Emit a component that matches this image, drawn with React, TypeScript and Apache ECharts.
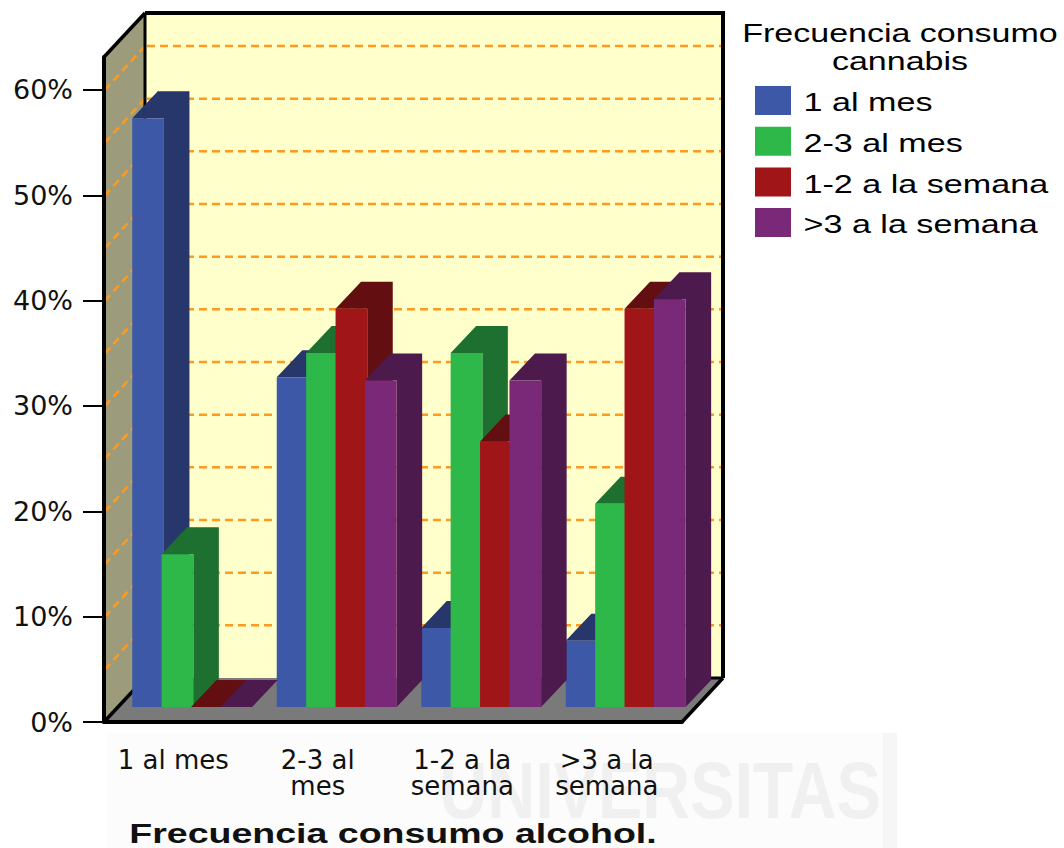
import React, { useEffect, useRef } from "react";
import * as echarts from "echarts";

const categories = ["1 al mes", "2-3 al\nmes", "1-2 a la\nsemana", ">3 a la\nsemana"];
const seriesNames = ["1 al mes", "2-3 al mes", "1-2 a la semana", ">3 a la semana"];
const mensual = [55.9, 31.3, 7.5, 6.3];
const dosTresMes = [14.5, 33.6, 33.6, 19.3];
const unoDosSemana = [0, 37.8, 25.2, 37.8];
const masTresSemana = [0, 31.0, 31.0, 38.7];
const seriesValues = [mensual, dosTresMes, unoDosSemana, masTresSemana];
const frontColors = ["#3e58a8", "#2eb84a", "#a01518", "#7a2878"];
const sideColors = ["#27366b", "#1d702f", "#630e10", "#4c1a4c"];
const yTicks = [0, 10, 20, 30, 40, 50, 60];
const gridValues = [5, 10, 15, 20, 25, 30, 35, 40, 45, 50, 55, 60];
const AXIS_MAX = 63.13;
const legendTitle = ["Frecuencia consumo", "cannabis"];
const xTitle = "Frecuencia consumo alcohol.";
const watermark = "UNIVERSITAS";

const WALL_DX = 41;
const WALL_DY = -44;
const BAR_DX = 25.5;
const BAR_DY = -27;
const BAR_W = 31.7;
const BAR_STEP = 29.4;
const PLANE_DY = -15;
const GROUP_LEFT = -44;

const renderWalls = (params: any, api: any) => {
  const c = params.coordSys;
  const x0 = c.x;
  const x1 = c.x + c.width;
  const yb = c.y + c.height;
  const yt = c.y;
  const fl = { stroke: "#000", lineWidth: 3.5 };
  const children: any[] = [
    { type: "polygon", shape: { points: [[x0 + WALL_DX, yt + WALL_DY], [x1 + WALL_DX, yt + WALL_DY], [x1 + WALL_DX, yb + WALL_DY], [x0 + WALL_DX, yb + WALL_DY]] }, style: { fill: "#ffffcc" } },
    { type: "polygon", shape: { points: [[x0, yt], [x0 + WALL_DX, yt + WALL_DY], [x0 + WALL_DX, yb + WALL_DY], [x0, yb]] }, style: { fill: "#9c9c7c" } },
  ];
  gridValues.forEach((v) => {
    const y = api.coord([0, v])[1];
    const dash = { stroke: "#ff9a1f", lineWidth: 2.5, lineDash: [8, 5] };
    children.push({ type: "line", shape: { x1: x0 + WALL_DX + 2, y1: y + WALL_DY, x2: x1 + WALL_DX - 2, y2: y + WALL_DY }, style: dash });
    children.push({ type: "line", shape: { x1: x0 + WALL_DX, y1: y + WALL_DY, x2: x0 + 1, y2: y }, style: dash });
  });
  children.push({ type: "polygon", shape: { points: [[x0, yb], [x1, yb], [x1 + WALL_DX, yb + WALL_DY], [x0 + WALL_DX, yb + WALL_DY]] }, style: { fill: "#7a7a7a" } });
  children.push({ type: "line", shape: { x1: x0 + WALL_DX, y1: yt + WALL_DY, x2: x0 + WALL_DX, y2: yb + WALL_DY }, style: { stroke: "#000", lineWidth: 3 } });
  children.push({ type: "line", shape: { x1: x0, y1: yt, x2: x0 + WALL_DX, y2: yt + WALL_DY }, style: fl });
  children.push({ type: "line", shape: { x1: x0, y1: yb, x2: x0 + WALL_DX, y2: yb + WALL_DY }, style: fl });
  children.push({ type: "line", shape: { x1: x1, y1: yb, x2: x1 + WALL_DX, y2: yb + WALL_DY }, style: fl });
  children.push({ type: "line", shape: { x1: x1 + WALL_DX - 13, y1: yb + WALL_DY, x2: x1 + WALL_DX, y2: yb + WALL_DY }, style: { stroke: "#000", lineWidth: 3 } });
  children.push({ type: "line", shape: { x1: x1 + WALL_DX, y1: yb + WALL_DY, x2: x1 + WALL_DX, y2: yt + WALL_DY }, style: { stroke: "#000", lineWidth: 4 } });
  children.push({ type: "line", shape: { x1: x0 + WALL_DX, y1: yt + WALL_DY, x2: x1 + WALL_DX + 2, y2: yt + WALL_DY }, style: { stroke: "#000", lineWidth: 4 } });
  return { type: "group", children };
};

const renderBar = (s: number) => (_params: any, api: any) => {
  const cat = api.value(0);
  const val = api.value(1);
  const cx = api.coord([cat, 0])[0];
  const left = cx + GROUP_LEFT + s * BAR_STEP;
  const right = left + BAR_W;
  const base = api.coord([cat, 0])[1] + PLANE_DY;
  const top = api.coord([cat, val])[1] + PLANE_DY;
  const children: any[] = [
    { type: "polygon", shape: { points: [[left, top], [left + BAR_DX, top + BAR_DY], [right + BAR_DX, top + BAR_DY], [right + BAR_DX, base + BAR_DY], [right, base], [right, top]] }, style: { fill: sideColors[s] } },
  ];
  if (val > 0) {
    children.push({ type: "rect", shape: { x: left, y: top, width: BAR_W, height: base - top }, style: { fill: frontColors[s] } });
  }
  return { type: "group", children };
};

export default function App() {
  const ref = useRef<HTMLDivElement>(null);
  useEffect(() => {
    const chart = echarts.init(ref.current!, null, { renderer: "svg" });
    const legendGraphics: any[] = [];
    seriesNames.forEach((name, i) => {
      const y = 86 + i * 40.7;
      legendGraphics.push({ type: "rect", shape: { x: 755, y, width: 36, height: 29 }, style: { fill: frontColors[i] } });
      legendGraphics.push({ type: "text", x: 803.5, y: y + 16.5, scaleX: 1.365, style: { text: name, fill: "#000", font: "25px 'Liberation Sans'", textAlign: "left", textVerticalAlign: "middle" } });
    });
    legendTitle.forEach((t, i) => {
      legendGraphics.push({ type: "text", x: 900, y: 33 + i * 28, scaleX: 1.36, style: { text: t, fill: "#000", font: "25px 'Liberation Sans'", textAlign: "center", textVerticalAlign: "middle" } });
    });
    chart.setOption({
      animation: false,
      backgroundColor: "#fff",
      graphic: [
        { type: "rect", z: -2, shape: { x: 107, y: 733, width: 776, height: 115 }, style: { fill: "#fcfcfc" } },
        { type: "rect", z: -2, shape: { x: 883, y: 733, width: 14, height: 115 }, style: { fill: "#f6f6f6" } },
        { type: "text", z: -1, x: 660, y: 790, scaleX: 0.83, style: { text: watermark, fill: "#f0f0f0", font: "bold 80px 'Liberation Sans'", textAlign: "center", textVerticalAlign: "middle" } },
        { type: "text", x: 393, y: 833, scaleX: 1.34, style: { text: xTitle, fill: "#111", font: "bold 28px 'Liberation Sans'", textAlign: "center", textVerticalAlign: "middle" } },
        ...legendGraphics,
      ],
      grid: { left: 104, width: 578, top: 57, height: 665 },
      xAxis: {
        type: "category",
        data: categories,
        z: 10,
        axisLine: { lineStyle: { color: "#000", width: 4 } },
        axisTick: { alignWithLabel: true, length: 18, lineStyle: { color: "#000", width: 3 } },
        axisLabel: { interval: 0, margin: 25, padding: [0, 6, 0, 0], color: "#111", fontFamily: "DejaVu Sans", fontSize: 26, lineHeight: 26 },
        splitLine: { show: false },
      },
      yAxis: {
        type: "value",
        min: 0,
        max: AXIS_MAX,
        z: 10,
        axisLine: { show: true, lineStyle: { color: "#000", width: 4 } },
        axisTick: { show: true, length: 21, customValues: yTicks, lineStyle: { color: "#000", width: 2 } },
        axisLabel: { customValues: yTicks, margin: 31, color: "#111", fontFamily: "DejaVu Sans", fontSize: 27, formatter: "{value}%" },
        splitLine: { show: false },
      },
      series: [
        { type: "custom", name: "walls", z: 1, silent: true, clip: false, renderItem: renderWalls, data: [[0, 0]], encode: { x: 0, y: 1 } },
        ...seriesValues.map((vals, s) => ({
          type: "custom",
          name: seriesNames[s],
          z: 3,
          clip: false,
          itemStyle: { color: frontColors[s] },
          renderItem: renderBar(s),
          data: vals.map((v, i) => [i, v]),
          encode: { x: 0, y: 1 },
        })),
      ],
    });
    return () => chart.dispose();
  }, []);
  return <div ref={ref} style={{ position: "fixed", left: 0, top: 0, width: 1064, height: 848 }} />;
}
